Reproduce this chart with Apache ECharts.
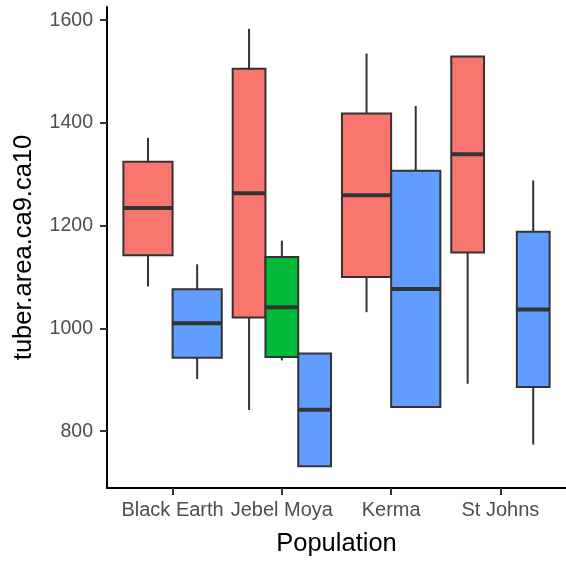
<!DOCTYPE html>
<html>
<head>
<meta charset="utf-8">
<script src="https://cdn.jsdelivr.net/npm/echarts@6/dist/echarts.min.js"></script>
<style>
html,body{margin:0;padding:0;background:#fff;}
#chart{width:566px;height:562px;}
</style>
</head>
<body>
<div id="chart"></div>
<script>
// ---- data ----
var categories = ['Black Earth', 'Jebel Moya', 'Kerma', 'St Johns'];
var yTicks = [800, 1000, 1200, 1400, 1600];
// dodge slots per category (number of boxes sharing the category)
var slotsPerCategory = [2, 3, 2, 3];
// box stats per category: [lower whisker, Q1, median, Q3, upper whisker]
var redStats = [
  [1081.6, 1142.3, 1234.2, 1324.3, 1370.9],
  [841.4, 1021.4, 1263.3, 1505.4, 1583.1],
  [1031.7, 1100.2, 1259.4, 1418.1, 1535.1],
  [892.4, 1147.6, 1339.0, 1529.3, 1529.3]
];
var redSlot = [0, 0, 0, 0];
var greenStats = [
  null,
  [937.9, 944.3, 1041.4, 1139.0, 1170.9],
  null,
  null
];
var greenSlot = [null, 1, null, null];
var blueStats = [
  [901.6, 942.9, 1010.3, 1076.3, 1124.9],
  [732.0, 732.0, 842.0, 951.5, 951.5],
  [847.2, 847.2, 1076.9, 1306.8, 1433.0],
  [774.0, 886.0, 1036.9, 1188.3, 1288.0]
];
var blueSlot = [1, 2, 1, 2];

var groups = [
  {name: 'red', color: '#F8766D', stats: redStats, slot: redSlot},
  {name: 'green', color: '#00BA38', stats: greenStats, slot: greenSlot},
  {name: 'blue', color: '#619CFF', stats: blueStats, slot: blueSlot}
];

var DODGE = 0.9;

function buildData(g) {
  var out = [];
  for (var i = 0; i < categories.length; i++) {
    var s = g.stats[i];
    if (!s) continue;
    var n = slotsPerCategory[i];
    var w = DODGE / n;
    var x = (i + 1) - DODGE / 2 + (g.slot[i] + 0.5) * w;
    out.push([x, s[0], s[1], s[2], s[3], s[4], w]);
  }
  return out;
}

function makeRender(color) {
  return function (params, api) {
    var x = api.value(0), lo = api.value(1), q1 = api.value(2), med = api.value(3),
        q3 = api.value(4), hi = api.value(5), w = api.value(6);
    var pTL = api.coord([x - w / 2, q3]);
    var pBR = api.coord([x + w / 2, q1]);
    var pHi = api.coord([x, hi]);
    var pLo = api.coord([x, lo]);
    var pMedL = api.coord([x - w / 2, med]);
    var pMedR = api.coord([x + w / 2, med]);
    var cx = pHi[0];
    var lineStyle = {stroke: '#333333', lineWidth: 2};
    var children = [];
    if (pHi[1] < pTL[1] - 0.5) {
      children.push({type: 'line', shape: {x1: cx, y1: pHi[1], x2: cx, y2: pTL[1]}, style: lineStyle});
    }
    if (pLo[1] > pBR[1] + 0.5) {
      children.push({type: 'line', shape: {x1: cx, y1: pBR[1], x2: cx, y2: pLo[1]}, style: lineStyle});
    }
    children.push({
      type: 'rect',
      shape: {x: pTL[0], y: pTL[1], width: pBR[0] - pTL[0], height: pBR[1] - pTL[1]},
      style: {fill: color, stroke: '#333333', lineWidth: 2}
    });
    children.push({
      type: 'line',
      shape: {x1: pMedL[0], y1: pMedL[1], x2: pMedR[0], y2: pMedR[1]},
      style: {stroke: '#333333', lineWidth: 4}
    });
    return {type: 'group', children: children};
  };
}

var chart = echarts.init(document.getElementById('chart'), null, {renderer: 'canvas'});
var FONT = 'Liberation Sans, Arial, sans-serif';

var series = groups.map(function (g) {
  return {
    type: 'custom',
    name: g.name,
    renderItem: makeRender(g.color),
    encode: {x: 0, y: [1, 2, 3, 4, 5]},
    data: buildData(g),
    animation: false
  };
});

chart.setOption({
  animation: false,
  backgroundColor: '#ffffff',
  grid: {left: 107, right: 0, top: 7, bottom: 72, containLabel: false},
  xAxis: {
    type: 'value',
    min: 0.4,
    max: 4.6,
    name: 'Population',
    nameLocation: 'middle',
    nameGap: 43,
    nameTextStyle: {color: '#000', fontSize: 25.5, fontFamily: FONT},
    axisLine: {show: true, onZero: false, lineStyle: {color: '#000', width: 2}},
    axisTick: {show: true, length: 7, customValues: [1, 2, 3, 4], lineStyle: {color: '#333', width: 2}},
    axisLabel: {
      customValues: [1, 2, 3, 4],
      formatter: function (v) { return categories[Math.round(v) - 1] || ''; },
      color: '#4D4D4D', fontSize: 20, fontFamily: FONT, margin: 12
    },
    splitLine: {show: false}
  },
  yAxis: {
    type: 'value',
    min: 689.5,
    max: 1625.6,
    name: 'tuber.area.ca9.ca10',
    nameLocation: 'middle',
    nameGap: 70,
    nameRotate: 90,
    nameTextStyle: {color: '#000', fontSize: 25.5, fontFamily: FONT},
    axisLine: {show: true, onZero: false, lineStyle: {color: '#000', width: 2}},
    axisTick: {show: true, length: 7, customValues: yTicks, lineStyle: {color: '#333', width: 2}},
    axisLabel: {
      customValues: yTicks,
      formatter: function (v) { return String(v); },
      color: '#4D4D4D', fontSize: 19.5, fontFamily: FONT, margin: 14
    },
    splitLine: {show: false}
  },
  series: series
});
</script>
</body>
</html>
